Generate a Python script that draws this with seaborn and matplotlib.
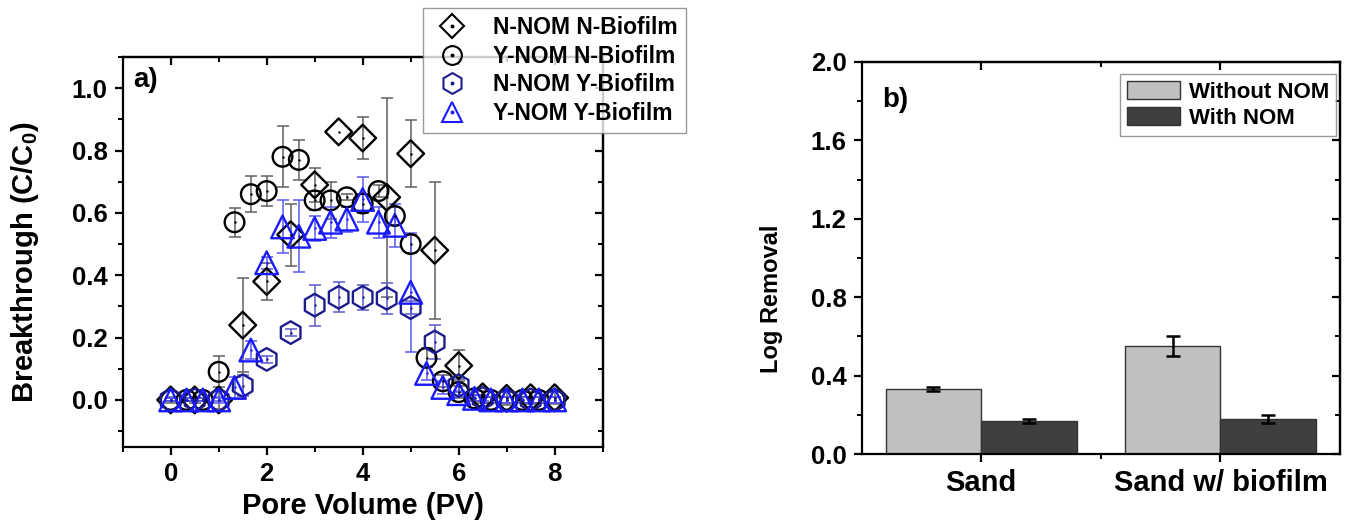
import numpy as np
import pandas as pd
import matplotlib
matplotlib.use("Agg")
import matplotlib.pyplot as plt
import seaborn as sns
from matplotlib.lines import Line2D
from matplotlib.patches import Patch
from matplotlib.ticker import FixedLocator, FormatStrFormatter

# ---------------- data: panel a ----------------
pv_half = [0.0, 0.5, 1.0, 1.5, 2.0, 2.5, 3.0, 3.5, 4.0, 4.5, 5.0, 5.5, 6.0, 6.5, 7.0, 7.5, 8.0]
pv_third = [0.0, 0.33, 0.67, 1.0, 1.33, 1.67, 2.0, 2.33, 2.67, 3.0, 3.33, 3.67, 4.0,
            4.33, 4.67, 5.0, 5.33, 5.67, 6.0, 6.33, 6.67, 7.0, 7.33, 7.67, 8.0]

nnom_nbio = [0.0, 0.0, 0.0, 0.24, 0.38, 0.53, 0.69, 0.86, 0.84, 0.65, 0.79, 0.48, 0.11,
             0.01, 0.005, 0.007, 0.007]
nnom_nbio_err = [0.01, 0.01, 0.03, 0.15, 0.06, 0.10, 0.055, float("nan"), 0.068, 0.32,
                 0.107, 0.22, 0.05, 0.02, 0.02, 0.02, 0.02]

ynom_nbio = [0.0, 0.0, 0.0, 0.09, 0.57, 0.66, 0.67, 0.78, 0.77, 0.64, 0.64, 0.65, 0.63,
             0.67, 0.59, 0.50, 0.135, 0.06, 0.025, 0.005, 0.0, 0.0, 0.0, 0.0, 0.0]
ynom_nbio_err = [0.005, 0.005, 0.005, 0.05, 0.046, 0.057, 0.047, 0.098, 0.064, 0.03, 0.06,
                 0.01, 0.03, 0.02, 0.03, 0.03, 0.03, 0.02, 0.02, 0.01, 0.01, 0.01, 0.01,
                 0.01, 0.01]

nnom_ybio = [0.0, 0.0, 0.0, 0.046, 0.13, 0.216, 0.304, 0.329, 0.329, 0.326, 0.296, 0.186,
             0.046, 0.005, 0.0, 0.0, 0.0]
nnom_ybio_err = [0.005, 0.005, 0.005, 0.035, 0.01, 0.012, 0.066, 0.048, 0.04, 0.05, 0.02,
                 0.055, 0.02, 0.01, 0.01, 0.01, 0.01]

ynom_ybio = [0.0, 0.0, 0.0, 0.0, 0.04, 0.16, 0.44, 0.555, 0.525, 0.55, 0.57, 0.58, 0.643,
             0.57, 0.56, 0.345, 0.085, 0.04, 0.02, 0.005, 0.0, 0.0, 0.0, 0.0, 0.0]
ynom_ybio_err = [0.005, 0.005, 0.005, 0.01, 0.035, 0.03, 0.02, 0.085, 0.115, 0.04, 0.05,
                 0.04, 0.073, 0.05, 0.07, 0.19, 0.02, 0.02, 0.01, 0.01, 0.01, 0.01, 0.01,
                 0.01, 0.01]

series_labels = ["N-NOM N-Biofilm", "Y-NOM N-Biofilm", "N-NOM Y-Biofilm", "Y-NOM Y-Biofilm"]

# ---------------- data: panel b ----------------
sites = ["Sand", "Sand w/ biofilm"]
nom_levels = ["Without NOM", "With NOM"]
removal_without = [0.33, 0.55]
removal_without_err = [0.01, 0.05]
removal_with = [0.17, 0.18]
removal_with_err = [0.01, 0.02]

# ---------------- style ----------------
sns.set_theme(style="white")
plt.rcParams["font.family"] = ["Liberation Sans", "DejaVu Sans"]
plt.rcParams["font.weight"] = "bold"
plt.rcParams["axes.labelweight"] = "bold"
plt.rcParams["text.color"] = "black"
plt.rcParams["axes.labelcolor"] = "black"
plt.rcParams["xtick.color"] = "black"
plt.rcParams["ytick.color"] = "black"
plt.rcParams["mathtext.fontset"] = "custom"
plt.rcParams["mathtext.rm"] = "Liberation Sans:bold"
plt.rcParams["mathtext.bf"] = "Liberation Sans:bold"
plt.rcParams["mathtext.it"] = "Liberation Sans:bold"
plt.rcParams["axes.edgecolor"] = "black"
plt.rcParams["axes.linewidth"] = 1.6

TICK_FS = 18.5
LABEL_FS = 21

fig = plt.figure(figsize=(13.54, 5.27), dpi=100)
axa = fig.add_axes([0.0906, 0.1524, 0.3545, 0.7394])
axb = fig.add_axes([0.6364, 0.1385, 0.3533, 0.7439])


def origin_ticks(ax, xmaj, xmin, ymaj, ymin):
    ax.tick_params(which="major", direction="out", length=6, width=1.6,
                   labelsize=TICK_FS, colors="black", pad=5)
    ax.tick_params(which="minor", direction="out", length=3.5, width=1.4)
    ax.tick_params(which="both", bottom=True, left=True, top=False, right=False)
    for lab in ax.get_xticklabels() + ax.get_yticklabels():
        lab.set_fontweight("bold")
    sx = ax.secondary_xaxis("top")
    sx.set_xticks(xmaj)
    sx.xaxis.set_minor_locator(FixedLocator(xmin))
    sx.tick_params(which="major", direction="in", length=6, width=1.6, labeltop=False)
    sx.tick_params(which="minor", direction="in", length=3.5, width=1.4)
    sy = ax.secondary_yaxis("right")
    sy.set_yticks(ymaj)
    sy.yaxis.set_minor_locator(FixedLocator(ymin))
    sy.tick_params(which="major", direction="in", length=6, width=1.6, labelright=False)
    sy.tick_params(which="minor", direction="in", length=3.5, width=1.4)
    for s in list(sx.spines.values()) + list(sy.spines.values()):
        s.set_linewidth(1.6)


# ---------------- panel a ----------------
specs = [
    (pv_half, nnom_nbio, nnom_nbio_err, "D", 185, "black", "#606060"),
    (pv_third, ynom_nbio, ynom_nbio_err, "o", 200, "black", "#606060"),
    (pv_half, nnom_ybio, nnom_ybio_err, "h", 265, "#1c1c8e", "#5a5ac8"),
    (pv_third, ynom_ybio, ynom_ybio_err, "^", 265, "#1a1aff", "#5a5af0"),
]
legend_ms = {"D": 12, "o": 13.5, "h": 15, "^": 15}
handles = []
for (xs, ys, es, mk, sz, col, ecol), lab in zip(specs, series_labels):
    df = pd.DataFrame({"pv": xs, "c": ys, "err": es})
    axa.errorbar(df["pv"], df["c"], yerr=df["err"], fmt="none", ecolor=ecol,
                 elinewidth=1.1, capsize=4, capthick=1.1, zorder=2)
    sns.scatterplot(data=df, x="pv", y="c", marker=mk, s=sz, facecolor="none",
                    edgecolor=col, color=col, linewidth=1.7, ax=axa, zorder=3,
                    legend=False)
    sns.scatterplot(data=df, x="pv", y="c", marker="o", s=3, color=col,
                    linewidth=0, ax=axa, zorder=4, legend=False)
    h1 = Line2D([], [], ls="none", marker=mk, markersize=legend_ms[mk], mfc="none",
                mec=col, mew=1.5)
    h2 = Line2D([], [], ls="none", marker="o", markersize=1.8, mfc=col, mec=col)
    handles.append((h1, h2))

axa.set_xlim(-1, 9)
axa.set_ylim(-0.15, 1.1)
axa.xaxis.set_major_locator(FixedLocator([0, 2, 4, 6, 8]))
axa.xaxis.set_minor_locator(FixedLocator([-1, 1, 3, 5, 7, 9]))
axa.yaxis.set_major_locator(FixedLocator([0.0, 0.2, 0.4, 0.6, 0.8, 1.0]))
axa.yaxis.set_minor_locator(FixedLocator([-0.1, 0.1, 0.3, 0.5, 0.7, 0.9, 1.1]))
axa.yaxis.set_major_formatter(FormatStrFormatter("%.1f"))
axa.set_xlabel("Pore Volume (PV)", fontsize=LABEL_FS, fontweight="bold", labelpad=4)
axa.set_ylabel(r"Breakthrough (C/C$_{0}$)", fontsize=LABEL_FS, fontweight="bold")
axa.yaxis.set_label_coords(-0.17, 0.474)
origin_ticks(axa, [0, 2, 4, 6, 8], [-1, 1, 3, 5, 7, 9],
             [0.0, 0.2, 0.4, 0.6, 0.8, 1.0], [-0.1, 0.1, 0.3, 0.5, 0.7, 0.9, 1.1])
axa.text(0.022, 0.924, "a)", transform=axa.transAxes, fontsize=20, fontweight="bold",
         va="baseline", ha="left")

leg_a = fig.legend(handles, series_labels, loc="upper left",
                   bbox_to_anchor=(0.3124, 0.985), bbox_transform=fig.transFigure,
                   frameon=True, fancybox=False, edgecolor="#808080",
                   prop={"weight": "bold", "size": 16.5}, handlelength=1.8,
                   handletextpad=0.9, labelspacing=0.25, borderpad=0.35,
                   borderaxespad=0)
leg_a.get_frame().set_linewidth(1.0)

# ---------------- panel b ----------------
dfb = pd.DataFrame({
    "site": sites + sites,
    "nom": [nom_levels[0]] * len(sites) + [nom_levels[1]] * len(sites),
    "removal": removal_without + removal_with,
    "err": removal_without_err + removal_with_err,
})
sns.barplot(data=dfb, x="site", y="removal", hue="nom", order=sites,
            hue_order=nom_levels, palette=["#c0c0c0", "#3f3f3f"], width=0.8,
            edgecolor="#333333", linewidth=1.0, errorbar=None, ax=axb, legend=False)
bars = [p for p in axb.patches if p.get_height() > 0]
for p, e in zip(bars, removal_without_err + removal_with_err):
    axb.errorbar(p.get_x() + p.get_width() / 2, p.get_height(), yerr=e, fmt="none",
                 ecolor="black", elinewidth=1.8, capsize=5, capthick=1.8, zorder=5)

axb.set_xlim(-0.5, 1.5)
axb.set_ylim(0, 2.0)
axb.yaxis.set_major_locator(FixedLocator([0.0, 0.4, 0.8, 1.2, 1.6, 2.0]))
axb.yaxis.set_minor_locator(FixedLocator([0.2, 0.6, 1.0, 1.4, 1.8]))
axb.yaxis.set_major_formatter(FormatStrFormatter("%.1f"))
axb.xaxis.set_minor_locator(FixedLocator([0.5]))
axb.set_xlabel("")
axb.set_ylabel("Log Removal", fontsize=17, fontweight="bold")
axb.yaxis.set_label_coords(-0.165, 0.397)
origin_ticks(axb, [0, 1], [0.5], [0.0, 0.4, 0.8, 1.2, 1.6, 2.0], [0.2, 0.6, 1.0, 1.4, 1.8])
for lab in axb.get_xticklabels():
    lab.set_fontsize(LABEL_FS)
    lab.set_fontweight("bold")
axb.text(0.044, 0.886, "b)", transform=axb.transAxes, fontsize=20, fontweight="bold",
         va="baseline", ha="left")

leg_handles_b = [Patch(facecolor="#c0c0c0", edgecolor="#333333", linewidth=1.0),
                 Patch(facecolor="#3f3f3f", edgecolor="#333333", linewidth=1.0)]
leg_b = axb.legend(leg_handles_b, nom_levels, loc="upper right",
                   bbox_to_anchor=(0.9867, 0.8596), bbox_transform=fig.transFigure,
                   frameon=True, fancybox=False, edgecolor="#808080",
                   prop={"weight": "bold", "size": 16}, handlelength=2.4,
                   handleheight=0.9, handletextpad=0.4, labelspacing=0.2,
                   borderpad=0.3, borderaxespad=0)
leg_b.get_frame().set_linewidth(1.0)

fig.savefig("out.png", dpi=100, facecolor="white")
